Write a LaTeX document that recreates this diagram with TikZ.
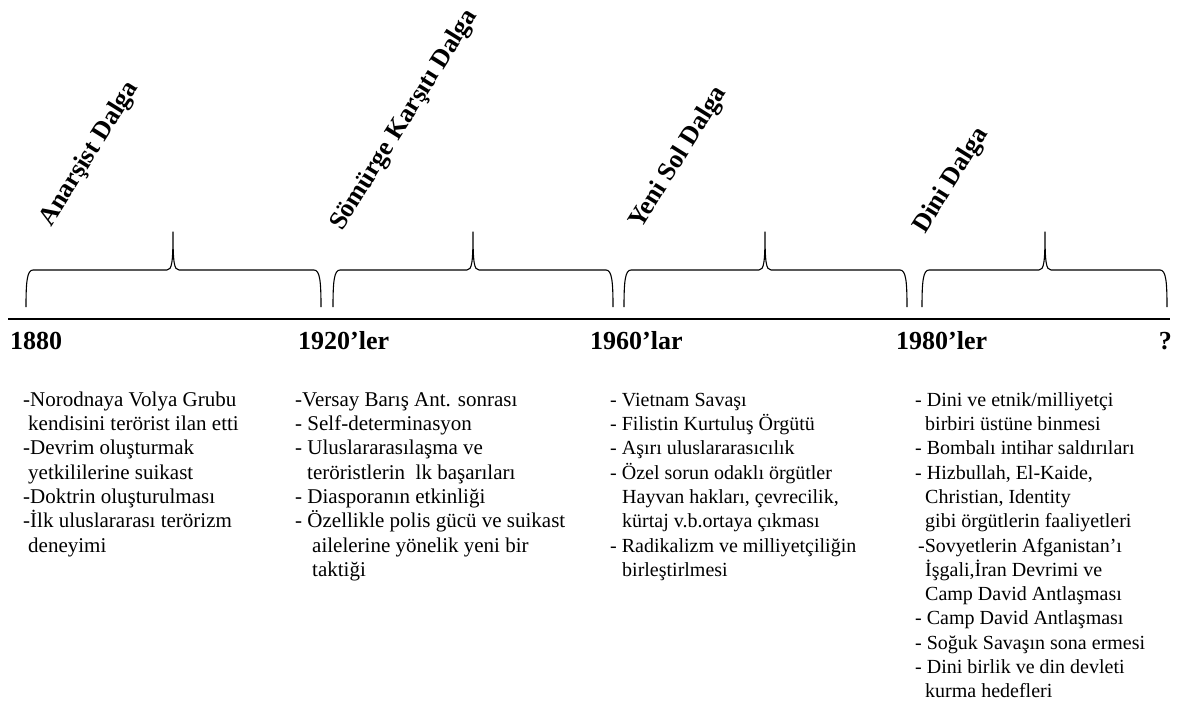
\documentclass[tikz,border=0pt]{standalone}
\usepackage{fontspec}
\setmainfont{Liberation Serif}
\tikzset{
  bracestyle/.style={line width=1.1pt, line join=round},
  col/.style={font=\fontsize{20}{24.3}\selectfont, align=left, inner sep=0pt, anchor=north west},
  colbig/.style={col, font=\fontsize{21}{24.3}\selectfont},
  wavetitle/.style={font=\fontsize{26}{30}\selectfont\bfseries, rotate=58, anchor=base west, inner sep=0pt},
  yearlabel/.style={font=\fontsize{26}{30}\selectfont\bfseries, anchor=base west, inner sep=0pt}
}
\newcommand{\wbrace}[3]{%
  \draw[bracestyle] (#1,307) .. controls (#1,282) and ({#1+1},270) .. ({#1+7},270)
    -- ({#2-6},270) .. controls ({#2-1},270) and (#2,262) .. (#2,232)
    .. controls (#2,262) and ({#2+1},270) .. ({#2+6},270)
    -- ({#3-7},270) .. controls ({#3-1},270) and (#3,282) .. (#3,307);}
\begin{document}
\begin{tikzpicture}[x=1pt,y=-1pt]
\useasboundingbox (0,0) rectangle (1177,709);

% timeline
\coordinate (tl) at (8,319);
\coordinate (tr) at (1170,319);
\draw[line width=1.3pt] (tl) -- (tr);

% braces
\wbrace{26}{173}{321}
\wbrace{333}{473}{613}
\wbrace{624}{765}{907}
\wbrace{922}{1045}{1167}

% titles
\node[wavetitle] (t1) at (51,228) {Anarşist Dalga};
\node[wavetitle] (t2) at (342,232) {Sömürge Karşıtı Dalga};
\node[wavetitle] (t3) at (641,230) {Yeni Sol Dalga};
\node[wavetitle] (t4) at (925,235) {Dini Dalga};

% years
\node[yearlabel] (y1) at (10,349) {1880};
\node[yearlabel] (y2) at (298,349) {1920’ler};
\node[yearlabel] (y3) at (590,349) {1960’lar};
\node[yearlabel] (y4) at (896,349) {1980’ler};
\node[yearlabel, anchor=base east] (y5) at (1172,349) {?};

% columns
\node[colbig] (c1) at (23,389) {\strut-Norodnaya Volya Grubu\\
\hspace*{5pt}kendisini terörist ilan etti\\
-Devrim oluşturmak\\
\hspace*{5pt}yetkililerine suikast\\
-Doktrin oluşturulması\\
-İlk uluslararası terörizm\\
\hspace*{5pt}deneyimi};

\node[colbig] (c2) at (295,389) {\strut-Versay Barış Ant. sonrası\\
- Self-determinasyon\\
- Uluslararasılaşma ve\\
\hspace*{12pt}teröristlerin\ \ lk başarıları\\
- Diasporanın etkinliği\\
- Özellikle polis gücü ve suikast\\
\hspace*{17pt}ailelerine yönelik yeni bir\\
\hspace*{17pt}taktiği};

\node[col] (c3) at (610,389) {\strut- Vietnam Savaşı\\
- Filistin Kurtuluş Örgütü\\
- Aşırı uluslararasıcılık\\
- Özel sorun odaklı örgütler\\
\hspace*{12pt}Hayvan hakları, çevrecilik,\\
\hspace*{12pt}kürtaj v.b.ortaya çıkması\\
- Radikalizm ve milliyetçiliğin\\
\hspace*{12pt}birleştirlmesi};

\node[col] (c4) at (915,389) {\strut- Dini ve etnik/milliyetçi\\
\hspace*{10pt}birbiri üstüne binmesi\\
- Bombalı intihar saldırıları\\
- Hizbullah, El-Kaide,\\
\hspace*{10pt}Christian, Identity\\
\hspace*{10pt}gibi örgütlerin faaliyetleri\\
\hspace*{3pt}-Sovyetlerin Afganistan’ı\\
\hspace*{10pt}İşgali,İran Devrimi ve\\
\hspace*{10pt}Camp David Antlaşması\\
- Camp David Antlaşması\\
- Soğuk Savaşın sona ermesi\\
- Dini birlik ve din devleti\\
\hspace*{10pt}kurma hedefleri};
\end{tikzpicture}
\end{document}
